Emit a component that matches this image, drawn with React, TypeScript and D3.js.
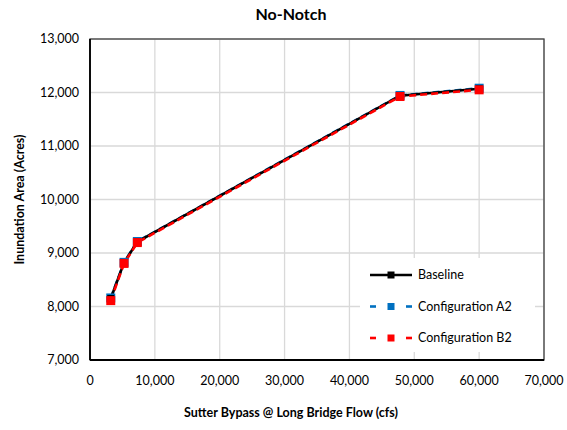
import React from "react";
import * as d3 from "d3";

const flowBaseline = [3200, 5250, 7300, 47800, 60000];
const areaBaseline = [8150, 8820, 9210, 11940, 12070];
const flowA2 = [3200, 5250, 7300, 47800, 60000];
const areaA2 = [8160, 8825, 9215, 11945, 12080];
const flowB2 = [3200, 5250, 7300, 47800, 60000];
const areaB2 = [8110, 8805, 9195, 11925, 12050];

const xTicks = [0, 10000, 20000, 30000, 40000, 50000, 60000, 70000];
const yTicks = [7000, 8000, 9000, 10000, 11000, 12000, 13000];
const seriesNames = ["Baseline", "Configuration A2", "Configuration B2"];

const W = 567, H = 430;
const M = { left: 90, right: 544, top: 39, bottom: 360 };
const FONT = "Lato, 'Open Sans', sans-serif";

export default function App() {
  const x = d3.scaleLinear().domain([0, 70000]).range([M.left, M.right]);
  const y = d3.scaleLinear().domain([7000, 13000]).range([M.bottom, M.top]);
  const fmt = d3.format(",");
  const line = d3.line<[number, number]>().x(d => x(d[0])).y(d => y(d[1]));

  const series = [
    { name: seriesNames[0], xs: flowBaseline, ys: areaBaseline, color: "#000000", dash: "none", ms: 7 },
    { name: seriesNames[1], xs: flowA2, ys: areaA2, color: "#0070C0", dash: "7,4", ms: 9 },
    { name: seriesNames[2], xs: flowB2, ys: areaB2, color: "#FF0000", dash: "7,4", ms: 9 },
  ];
  const drawOrder = [1, 0, 2];

  const legX = 370, legY0 = 275, legDy = 31.5;

  return (
    <svg width={W} height={H} style={{ position: "absolute", left: 0, top: 0, background: "#fff" }}>
      <rect x={0} y={0} width={W} height={H} fill="#fff" />
      {xTicks.map(t => (
        <line key={"gx" + t} x1={x(t)} x2={x(t)} y1={M.top} y2={M.bottom} stroke="#d9d9d9" strokeWidth={1.3} />
      ))}
      {yTicks.map(t => (
        <line key={"gy" + t} x1={M.left} x2={M.right} y1={y(t)} y2={y(t)} stroke="#d9d9d9" strokeWidth={1.3} />
      ))}
      <rect x={360} y={258} width={175} height={94} fill="#fff" />
      <rect x={M.left} y={M.top} width={M.right - M.left} height={M.bottom - M.top} fill="none" stroke="#404040" strokeWidth={1.3} />
      <line x1={M.left} x2={M.left} y1={M.top} y2={M.bottom} stroke="#000" strokeWidth={1.8} />
      <line x1={M.left} x2={M.right} y1={M.bottom} y2={M.bottom} stroke="#000" strokeWidth={1.8} />

      {drawOrder.map(k => {
        const s = series[k];
        const pts = s.xs.map((v, i) => [v, s.ys[i]] as [number, number]);
        return (
          <path key={"l" + s.name} d={line(pts) || ""} fill="none" stroke={s.color} strokeWidth={2.6} strokeDasharray={s.dash} />
        );
      })}
      {drawOrder.map(k => {
        const s = series[k];
        return (
          <g key={"m" + s.name}>
            {s.xs.map((v, i) => (
              <rect key={i} x={x(v) - s.ms / 2} y={y(s.ys[i]) - s.ms / 2} width={s.ms} height={s.ms} fill={s.color} />
            ))}
          </g>
        );
      })}

      {yTicks.map(t => (
        <text key={"ty" + t} x={79} y={y(t)} dy="0.35em" textAnchor="end" fontFamily={FONT} fontSize={12.5} fill="#000">{fmt(t)}</text>
      ))}
      {xTicks.map(t => (
        <text key={"tx" + t} x={x(t)} y={381} dy="0.35em" textAnchor="middle" fontFamily={FONT} fontSize={12.5} fill="#000">{fmt(t)}</text>
      ))}

      <text x={291} y={14} dy="0.35em" textAnchor="middle" fontFamily={FONT} fontWeight="bold" fontSize={16} fill="#000">No-Notch</text>
      <text x={291} y={413} dy="0.35em" textAnchor="middle" fontFamily={FONT} fontWeight="bold" fontSize={12.5} fill="#000">Sutter Bypass @ Long Bridge Flow (cfs)</text>
      <text transform={`translate(20,${(M.top + M.bottom) / 2}) rotate(-90)`} dy="0.35em" textAnchor="middle" fontFamily={FONT} fontWeight="bold" fontSize={12.5} fill="#000">Inundation Area (Acres)</text>

      {series.map((s, i) => {
        const ly = legY0 + i * legDy;
        return (
          <g key={"leg" + s.name}>
            {s.dash === "none" ? (
              <line x1={legX} x2={legX + 42} y1={ly} y2={ly} stroke={s.color} strokeWidth={2.6} />
            ) : (
              <>
                <line x1={legX} x2={legX + 6} y1={ly} y2={ly} stroke={s.color} strokeWidth={2.6} />
                <line x1={legX + 36} x2={legX + 42} y1={ly} y2={ly} stroke={s.color} strokeWidth={2.6} />
              </>
            )}
            <rect x={legX + 21 - 3.5} y={ly - 3.5} width={7} height={7} fill={s.color} />
            <text x={legX + 48} y={ly} dy="0.35em" fontFamily={FONT} fontSize={12.5} fill="#000">{s.name}</text>
          </g>
        );
      })}
    </svg>
  );
}
